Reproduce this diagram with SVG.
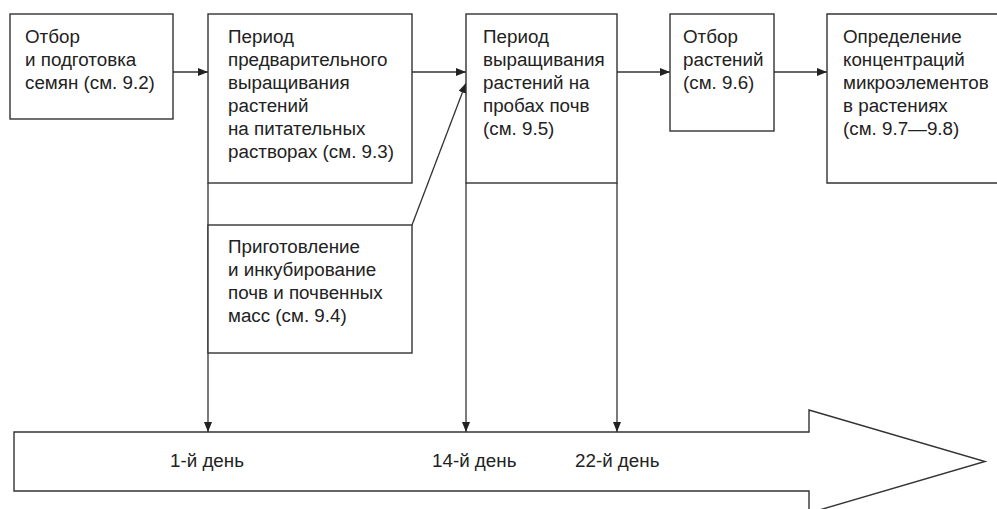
<svg xmlns="http://www.w3.org/2000/svg" width="997" height="509" viewBox="0 0 997 509">
<style>
.box{fill:#fff;stroke:#333;stroke-width:1.4}
.con{fill:none;stroke:#333;stroke-width:1.3}
text{font-family:"Liberation Sans",Arial,sans-serif;font-size:18.8px;fill:#222}
</style>
<defs>
<marker id="ah" viewBox="0 0 10 8" refX="10" refY="4" markerWidth="10" markerHeight="8" markerUnits="userSpaceOnUse" orient="auto">
<path d="M0,0 L10,4 L0,8 Z" fill="#222"/>
</marker>
</defs>
<rect width="997" height="509" fill="#fff"/>
<g id="timeline">
<path class="box" d="M14,432 H809 V410 L985,461.5 L809,513 V491 H14 Z"/>
<text x="170" y="467">1-й день</text>
<text x="432" y="467">14-й день</text>
<text x="575" y="467">22-й день</text>
</g>
<g id="connectors">
<line class="con" x1="173" y1="72" x2="208" y2="72" marker-end="url(#ah)"/>
<line class="con" x1="412" y1="72" x2="466" y2="72" marker-end="url(#ah)"/>
<line class="con" x1="617" y1="72" x2="670" y2="72" marker-end="url(#ah)"/>
<line class="con" x1="774" y1="72" x2="827" y2="72" marker-end="url(#ah)"/>
<line class="con" x1="412" y1="225" x2="466" y2="83" marker-end="url(#ah)"/>
<line class="con" x1="208" y1="183" x2="208" y2="432" marker-end="url(#ah)"/>
<line class="con" x1="466" y1="183" x2="466" y2="432" marker-end="url(#ah)"/>
<line class="con" x1="617" y1="183" x2="617" y2="432" marker-end="url(#ah)"/>
</g>
<g id="n1">
<rect class="box" x="10" y="14" width="163" height="105"/>
<text x="25" y="43">Отбор</text>
<text x="25" y="66">и подготовка</text>
<text x="25" y="89">семян (см. 9.2)</text>
</g>
<g id="n2">
<rect class="box" x="208" y="14" width="204" height="169"/>
<text x="228" y="43">Период</text>
<text x="228" y="66">предварительного</text>
<text x="228" y="89">выращивания</text>
<text x="228" y="112">растений</text>
<text x="228" y="135">на питательных</text>
<text x="228" y="158">растворах (см. 9.3)</text>
</g>
<g id="n6">
<rect class="box" x="208" y="225" width="204" height="128"/>
<text x="228" y="253">Приготовление</text>
<text x="228" y="276">и инкубирование</text>
<text x="228" y="299">почв и почвенных</text>
<text x="228" y="322">масс (см. 9.4)</text>
</g>
<g id="n3">
<rect class="box" x="466" y="14" width="151" height="169"/>
<text x="483" y="43">Период</text>
<text x="483" y="66">выращивания</text>
<text x="483" y="89">растений на</text>
<text x="483" y="112">пробах почв</text>
<text x="483" y="135">(см. 9.5)</text>
</g>
<g id="n4">
<rect class="box" x="670" y="14" width="104" height="117"/>
<text x="683" y="43">Отбор</text>
<text x="683" y="66">растений</text>
<text x="683" y="89">(см. 9.6)</text>
</g>
<g id="n5">
<path class="box" d="M1000,14 H827 V183 H1000"/>
<text x="843" y="43">Определение</text>
<text x="843" y="66">концентраций</text>
<text x="843" y="89">микроэлементов</text>
<text x="843" y="112">в растениях</text>
<text x="843" y="135">(см. 9.7—9.8)</text>
</g>
</svg>
